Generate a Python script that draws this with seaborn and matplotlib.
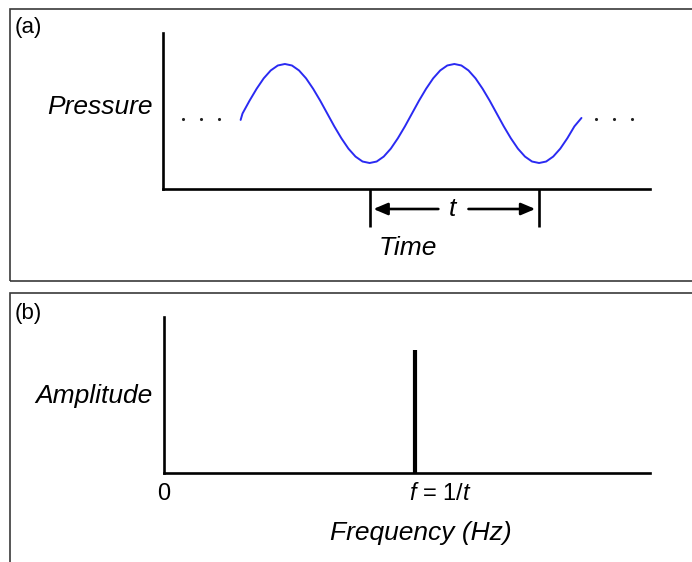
import matplotlib
matplotlib.use("Agg")
import matplotlib.pyplot as plt
import matplotlib.transforms as mtransforms
from matplotlib.patches import Rectangle
import pandas as pd
import seaborn as sns

# ---------------- data ----------------
# panel (a): pressure wave, phase in degrees (one period = 360 = t)
phase_deg = [-4, 0, 15, 30, 45, 60, 75, 90, 105, 120, 135, 150, 165, 180,
             195, 210, 225, 240, 255, 270, 285, 300, 315, 330, 345, 360,
             375, 390, 405, 420, 435, 450, 465, 480, 495, 510, 525, 540,
             555, 570, 585, 600, 615, 630, 645, 660, 675, 690, 705, 720]
pressure = [-0.13, 0.0, 0.26, 0.50, 0.71, 0.87, 0.97, 1.00, 0.97, 0.87, 0.71,
            0.50, 0.26, 0.0, -0.26, -0.50, -0.71, -0.87, -0.97, -1.00, -0.97,
            -0.87, -0.71, -0.50, -0.26, 0.0, 0.26, 0.50, 0.71, 0.87, 0.97,
            1.00, 0.97, 0.87, 0.71, 0.50, 0.26, 0.0, -0.26, -0.50, -0.71,
            -0.87, -0.97, -1.00, -0.97, -0.87, -0.71, -0.50, -0.26, -0.09]
dots_left_deg = [-127, -89, -51]
dots_right_deg = [751, 789, 827]
dots_level = -0.11
period_marks_deg = [270, 630]

# panel (b): spectrum
freq = [1.0]
amplitude = [1.0]
freq_ticks = [0.0, 1.0]
freq_ticklabels = ["0", r"$\mathit{f}$ = 1/$\mathit{t}$"]

# ---------------- style ----------------
sns.set_theme(style="white")
plt.rcParams['font.family'] = ['Liberation Sans', 'DejaVu Sans']
plt.rcParams['mathtext.fontset'] = 'custom'
plt.rcParams['mathtext.rm'] = 'Liberation Sans'
plt.rcParams['mathtext.it'] = 'Liberation Sans:italic'
plt.rcParams['text.color'] = 'black'
plt.rcParams['xtick.color'] = 'black'
plt.rcParams['xtick.labelcolor'] = 'black'

W, H = 692, 562
fig = plt.figure(figsize=(W / 100, H / 100), dpi=100)
fig.patch.set_facecolor('white')


def rect(l, t, r, b):
    return [l / W, 1 - b / H, (r - l) / W, (b - t) / H]


BLUE = '#2a2af2'
AXW = 1.9
LABEL_FS = 19
TICK_FS = 17
LETTER_FS = 16

# panel borders
fig.patches.append(Rectangle((10 / W, 1 - 281 / H), 2.0, 272 / H,
                             transform=fig.transFigure, fill=False,
                             edgecolor='#3a3a3a', lw=1.2, figure=fig))
fig.patches.append(Rectangle((10 / W, -1.0), 2.0, 1.0 + (1 - 293 / H),
                             transform=fig.transFigure, fill=False,
                             edgecolor='#3a3a3a', lw=1.2, figure=fig))
fig.text(15 / W, 1 - 28 / H, "(a)", fontsize=LETTER_FS, ha='left', va='center')
fig.text(15 / W, 1 - 313 / H, "(b)", fontsize=LETTER_FS, ha='left', va='center')

# ---------------- panel (a) ----------------
ax1 = fig.add_axes(rect(163, 33, 650, 189))
df_wave = pd.DataFrame({"phase": phase_deg, "pressure": pressure})
sns.lineplot(data=df_wave, x="phase", y="pressure", ax=ax1, color=BLUE,
             lw=1.4, sort=False, estimator=None)
sns.scatterplot(x=dots_left_deg + dots_right_deg,
                y=[dots_level] * (len(dots_left_deg) + len(dots_right_deg)),
                ax=ax1, color='#222222', s=5, linewidth=0)
ax1.set_xlim(-168.9, 865.6)
ax1.set_ylim(-1.525, 1.626)
ax1.set_xticks([])
ax1.set_yticks([])
ax1.set_xlabel("")
ax1.set_ylabel("")
sns.despine(ax=ax1)
for s in ('left', 'bottom'):
    ax1.spines[s].set_linewidth(AXW)
    ax1.spines[s].set_color('black')

ax1.text(-10 / 487, (189 - 107) / 156, "Pressure", transform=ax1.transAxes,
         ha='right', va='center', fontsize=LABEL_FS, style='italic')

trans = mtransforms.blended_transform_factory(ax1.transData, ax1.transAxes)
for xm in period_marks_deg:
    ax1.plot([xm, xm], [0, -38 / 156], transform=trans, color='black',
             lw=AXW, clip_on=False, solid_capstyle='butt')
mid = (period_marks_deg[0] + period_marks_deg[1]) / 2
arrow_y = -20 / 156
ap = dict(arrowstyle='-|>,head_length=0.85,head_width=0.36', mutation_scale=10,
          color='black', lw=1.9, shrinkA=0, shrinkB=0)
ax1.annotate("", xy=(period_marks_deg[0] + 8, arrow_y), xycoords=trans,
             xytext=(mid - 34, arrow_y), textcoords=trans, arrowprops=ap,
             annotation_clip=False)
ax1.annotate("", xy=(period_marks_deg[1] - 8, arrow_y), xycoords=trans,
             xytext=(mid + 30, arrow_y), textcoords=trans, arrowprops=ap,
             annotation_clip=False)
ax1.text(mid - 4, arrow_y, "t", transform=trans, ha='center', va='center',
         fontsize=LABEL_FS, style='italic')
ax1.text(351, (189 - 248) / 156, "Time", transform=trans, ha='center',
         va='center', fontsize=LABEL_FS, style='italic')

# ---------------- panel (b) ----------------
ax2 = fig.add_axes(rect(164, 317, 650, 473))
ax2.vlines(freq, 0, amplitude, color='black', lw=3.0)
ax2.set_xlim(0, 1.936)
ax2.set_ylim(0, 1.268)
ax2.set_yticks([])
ax2.set_xticks(freq_ticks)
ax2.set_xticklabels(freq_ticklabels, fontsize=TICK_FS)
ax2.tick_params(axis='x', length=0, pad=7, colors='black')
lbls = ax2.get_xticklabels()
lbls[1].set_horizontalalignment('left')
lbls[1].set_transform(lbls[1].get_transform() +
                      mtransforms.ScaledTranslation(-6 / 100, 0,
                                                    fig.dpi_scale_trans))
sns.despine(ax=ax2)
for s in ('left', 'bottom'):
    ax2.spines[s].set_linewidth(AXW)
    ax2.spines[s].set_color('black')
ax2.text(-11 / 486, (473 - 396) / 156, "Amplitude", transform=ax2.transAxes,
         ha='right', va='center', fontsize=LABEL_FS, style='italic')
ax2.text((421 - 164) / 486, (473 - 533) / 156, "Frequency (Hz)",
         transform=ax2.transAxes, ha='center', va='center',
         fontsize=LABEL_FS, style='italic')

fig.savefig("out.png", dpi=100, facecolor='white')
